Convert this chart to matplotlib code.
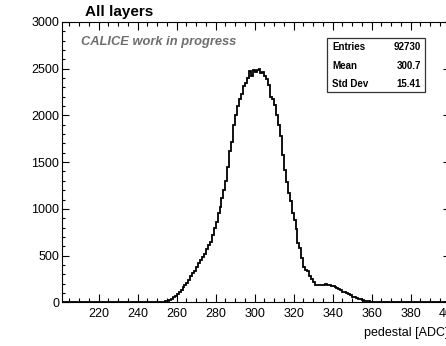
import numpy as np
import matplotlib
matplotlib.use("Agg")
import matplotlib.pyplot as plt
from matplotlib.ticker import MultipleLocator
from matplotlib.patches import Rectangle

plt.rcParams['font.family'] = ['Liberation Sans', 'DejaVu Sans']

# ---- data ----
x_range = (201, 400)
first_bin = 250          # lower edge of first non-empty bin (bin width 1 ADC)
counts = [2, 3, 5, 8, 12, 18, 28, 40, 55, 72,
          92, 112, 135, 160, 185, 210, 240, 280, 315, 340,
          375, 420, 450, 480, 520, 570, 610, 650, 720, 790,
          860, 960, 1020, 1120, 1200, 1300, 1450, 1620, 1720, 1900,
          2000, 2100, 2180, 2230, 2320, 2350, 2400, 2480, 2420, 2490,
          2460, 2490, 2500, 2450, 2470, 2420, 2390, 2330, 2200, 2180,
          2110, 2000, 1900, 1780, 1580, 1420, 1290, 1170, 1080, 960,
          880, 780, 640, 580, 470, 380, 345, 330, 280, 250,
          220, 185, 180, 185, 185, 190, 195, 190, 190, 175,
          170, 160, 150, 140, 130, 115, 105, 95, 85, 75,
          62, 52, 44, 36, 30, 24, 18, 14, 10, 7,
          5, 3, 2, 1]
stats_labels = ["Entries", "Mean", "Std Dev"]
stats_values = ["92730", "300.7", "15.41"]
title = "All layers"
xlabel = "pedestal [ADC]"
watermark = "CALICE work in progress"

# ---- figure ----
W, H = 446, 346
fig = plt.figure(figsize=(W / 100, H / 100), dpi=100)
ax = fig.add_axes([61.7 / W, 43.7 / H, (449.5 - 61.7) / W, 280.3 / H])

edges = np.arange(x_range[0], x_range[1] + 1)
vals = np.zeros(len(edges) - 1)
start = first_bin - x_range[0]
vals[start:start + len(counts)] = counts
ax.stairs(vals, edges, color='black', linewidth=1.3)

ax.set_xlim(*x_range)
ax.set_ylim(0, 3000)
ax.xaxis.set_major_locator(MultipleLocator(20))
ax.xaxis.set_minor_locator(MultipleLocator(5))
ax.yaxis.set_major_locator(MultipleLocator(500))
ax.yaxis.set_minor_locator(MultipleLocator(100))
ax.tick_params(which='both', direction='in', top=True, right=True,
               labelsize=9, width=0.8, color='black')
ax.tick_params(axis='x', which='major', length=5.5, pad=4)
ax.tick_params(axis='x', which='minor', length=3)
ax.tick_params(axis='y', which='major', length=5, pad=1.8)
ax.tick_params(axis='y', which='minor', length=2.5)
for s in ax.spines.values():
    s.set_linewidth(0.8)

fig.text(85 / W, 1 - 12 / H, title, ha='left', va='center',
         fontsize=11, fontweight='bold')
fig.text(449 / W, 1 - 333 / H, xlabel, ha='right', va='center', fontsize=9)
fig.text(81 / W, 1 - 42 / H, watermark, ha='left', va='center',
         fontsize=9.3, fontweight='bold', style='italic', color='#6e6e6e')

# stats box
bx0, by0, bx1, by1 = 327, 38.5, 425, 92
fig.patches.append(Rectangle((bx0 / W, 1 - by1 / H), (bx1 - bx0) / W, (by1 - by0) / H,
                             transform=fig.transFigure, fill=True, facecolor='white',
                             edgecolor='#333333', linewidth=0.9))
rows_y = [47.3, 65.7, 84.0]
for lab, val, yy in zip(stats_labels, stats_values, rows_y):
    fig.text(332 / W, 1 - yy / H, lab, ha='left', va='center', fontsize=7, fontweight='bold')
    fig.text(421 / W, 1 - yy / H, val, ha='right', va='center', fontsize=7, fontweight='bold')

fig.savefig("out.png", dpi=100)
